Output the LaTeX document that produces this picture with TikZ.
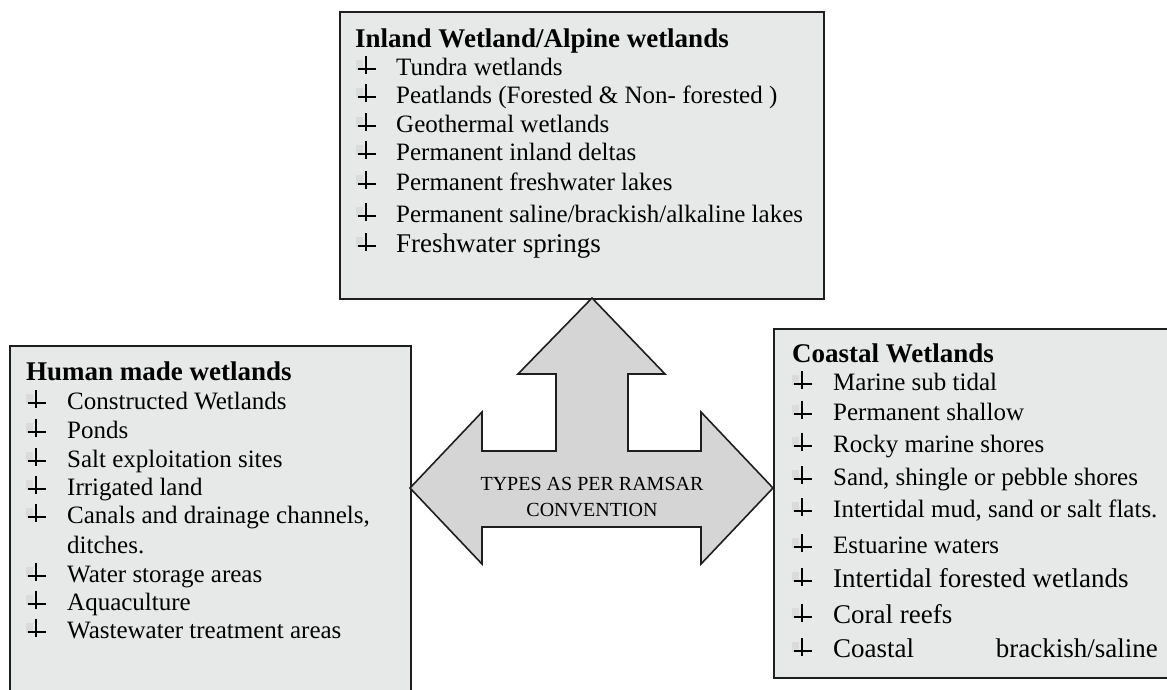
\documentclass[tikz,border=0pt]{standalone}
\usepackage{fontspec}
\setmainfont{Liberation Serif}
\definecolor{boxfill}{HTML}{E7E8E8}
\definecolor{arrowfill}{HTML}{D5D5D5}
\definecolor{edge}{HTML}{1E1E1E}
\begin{document}
\begin{tikzpicture}[x=1pt,y=-1pt,
  panel/.style={draw=edge,line width=1.6pt,fill=boxfill,anchor=north west,inner sep=0pt},
  heading/.style={anchor=base west,inner sep=0pt,font=\fontsize{27}{32}\selectfont\bfseries},
  entry/.style={anchor=base west,inner sep=0pt,font=\fontsize{25}{30}\selectfont},
  bigentry/.style={anchor=base west,inner sep=0pt,font=\fontsize{27}{32}\selectfont},
  centre/.style={align=center,inner sep=0pt,font=\fontsize{20}{26}\selectfont},
  wbul/.pic={
    \fill[black!14] (-10,-15) rectangle (-3,-5);
    \draw[line width=2pt,black] (0,-19) -- (0,-1);
    \draw[line width=2.4pt,black] (-8,-6) -- (10,-6);
  }]
\clip (0,0) rectangle (1167,689);
\useasboundingbox (0,0) rectangle (1167,689);

% three panels
\node[panel,minimum width=484pt,minimum height=287pt] (inland) at (339,11) {};
\node[panel,minimum width=401pt,minimum height=360pt] (human) at (9,345) {};
\node[panel,minimum width=400pt,minimum height=349pt] (coastal) at (773,328) {};

% three-way arrow
\coordinate (tipN) at (592,298);
\coordinate (tipW) at (410,488);
\coordinate (tipE) at (773,488);
\draw[draw=edge,line width=1.6pt,fill=arrowfill,line join=miter]
  (tipN) -- (665,374) -- (628,374) -- (628,451) -- (701,451) -- (701,412)
  -- (tipE) -- (701,564) -- (701,527) -- (482,527) -- (482,564)
  -- (tipW) -- (482,412) -- (482,451) -- (556,451) -- (556,374) -- (518,374) -- cycle;
\node[centre] (ramsar) at (592,497) {TYPES AS PER RAMSAR\\CONVENTION};

% inland panel
\node[heading] (t1) at (355,47) {Inland Wetland/Alpine wetlands};
\foreach \y/\txt [count=\i] in {75/{Tundra wetlands},
  103/{Peatlands (Forested \& Non- forested )},
  132/{Geothermal wetlands},
  160/{Permanent inland deltas},
  190/{Permanent freshwater lakes},
  222/{Permanent saline/brackish/alkaline lakes}}{
  \pic at (366,\y) {wbul};
  \node[entry] (in\i) at (396,\y) {\txt};
}
\pic at (366,252) {wbul};
\node[bigentry] (in7) at (396,252) {Freshwater springs};

% human made panel
\node[heading] (t2) at (26,380) {Human made wetlands};
\foreach \y/\txt [count=\i] in {409/{Constructed Wetlands},
  438/{Ponds},
  467/{Salt exploitation sites},
  495/{Irrigated land},
  523/{Canals and drainage channels,},
  582/{Water storage areas},
  610/{Aquaculture},
  638/{Wastewater treatment areas}}{
  \pic at (36,\y) {wbul};
  \node[entry] (hu\i) at (67,\y) {\txt};
}
\node[entry] (hu5b) at (67,553) {ditches.};

% coastal panel
\node[heading] (t3) at (792,362) {Coastal Wetlands};
\foreach \y/\txt [count=\i] in {390/{Marine sub tidal},
  420/{Permanent shallow},
  452/{Rocky marine shores},
  485/{Sand, shingle or pebble shores},
  517/{Intertidal mud, sand or salt flats.},
  553/{Estuarine waters}}{
  \pic at (802,\y) {wbul};
  \node[entry] (co\i) at (833,\y) {\txt};
}
\foreach \y/\txt [count=\i from 7] in {587/{Intertidal forested wetlands},
  623/{Coral reefs},
  657/{Coastal}}{
  \pic at (802,\y) {wbul};
  \node[bigentry] (co\i) at (833,\y) {\txt};
}
\node[bigentry,anchor=base east] (co9b) at (1158,657) {brackish/saline};
\end{tikzpicture}
\end{document}
